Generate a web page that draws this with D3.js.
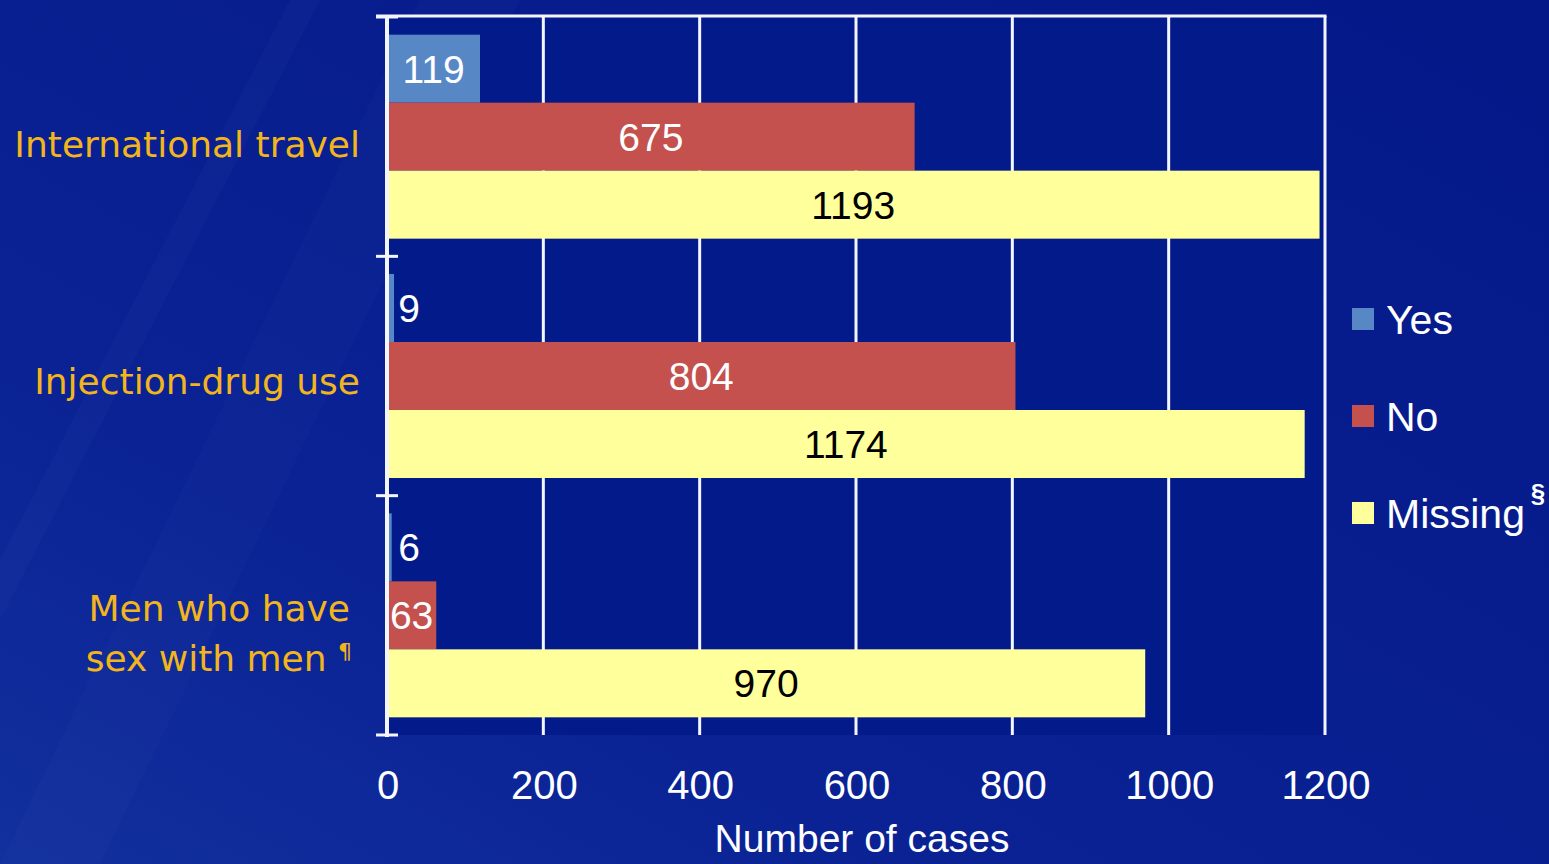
<!DOCTYPE html>
<html>
<head>
<meta charset="utf-8">
<script src="https://cdn.jsdelivr.net/npm/d3@7"></script>
<style>
  html, body { margin: 0; padding: 0; overflow: hidden; background: #061a8c; }
  svg { display: block; }
</style>
</head>
<body>
<figure id="bars" style="margin:0"></figure>
<script>
// chart data
const categories = ["International travel", "Injection-drug use", "Men who have sex with men"];
const series = ["Yes", "No", "Missing"];
const yesValues = [119, 9, 6];
const noValues = [675, 804, 63];
const missingValues = [1193, 1174, 970];
const xTicks = [0, 200, 400, 600, 800, 1000, 1200];

const width = 1549;
const height = 864;
const colors = { Yes: "#5887c6", No: "#c4514e", Missing: "#ffff9c" };
const labelColors = { Yes: "#ffffff", No: "#ffffff", Missing: "#000000" };

const rows = categories.map((c, i) => ({
  category: c,
  values: [
    { key: "Yes", value: yesValues[i] },
    { key: "No", value: noValues[i] },
    { key: "Missing", value: missingValues[i] }
  ]
}));

const svg = d3.select("figure#bars")
  .append("svg")
  .attr("width", width)
  .attr("height", height);

// background, slightly lighter toward the lower left
const defs = svg.append("defs");
const bg = defs.append("linearGradient")
  .attr("id", "bg").attr("x1", "0").attr("y1", "1").attr("x2", "1").attr("y2", "0");
bg.append("stop").attr("offset", "0").attr("stop-color", "#12309e");
bg.append("stop").attr("offset", "0.3").attr("stop-color", "#0a2294");
bg.append("stop").attr("offset", "1").attr("stop-color", "#041888");
svg.append("rect").attr("width", width).attr("height", height).attr("fill", "url(#bg)");
svg.append("path")
  .attr("d", "M0,560 L290,0 L320,0 L0,620 Z")
  .attr("fill", "#ffffff").attr("opacity", 0.02);
svg.append("path")
  .attr("d", "M0,864 L420,0 L520,0 L100,864 Z")
  .attr("fill", "#ffffff").attr("opacity", 0.015);

// scales
const x = d3.scaleLinear().domain([0, 1200]).range([387, 1325]);
const y = d3.scaleBand().domain(categories).range([17, 735]).paddingInner(0).paddingOuter(0);
const ySub = d3.scaleBand().domain(series).range([0, y.bandwidth()]).paddingInner(0).paddingOuter(0.26);

// plot area fill
svg.append("rect")
  .attr("x", x(0)).attr("y", y.range()[0])
  .attr("width", x(1200) - x(0)).attr("height", y.range()[1] - y.range()[0])
  .attr("fill", "#031a8a");

// vertical gridlines
svg.selectAll("line.grid")
  .data(xTicks.slice(1))
  .enter()
  .append("line")
  .attr("class", "grid")
  .attr("x1", d => x(d)).attr("x2", d => x(d))
  .attr("y1", 16).attr("y2", 735)
  .attr("stroke", "#f4f6ff")
  .attr("stroke-width", 3);

// top border
svg.append("line")
  .attr("x1", 376).attr("x2", x(1200) + 1.5)
  .attr("y1", 16).attr("y2", 16)
  .attr("stroke", "#f4f6ff").attr("stroke-width", 3);

// bars
const groups = svg.selectAll("g.row")
  .data(rows)
  .enter()
  .append("g")
  .attr("class", "row")
  .attr("transform", d => `translate(0,${y(d.category)})`);

groups.selectAll("rect")
  .data(d => d.values)
  .enter()
  .append("rect")
  .attr("x", x(0))
  .attr("y", d => ySub(d.key))
  .attr("width", d => x(d.value) - x(0))
  .attr("height", ySub.bandwidth())
  .attr("fill", d => colors[d.key]);

groups.selectAll("text.value")
  .data(d => d.values)
  .enter()
  .append("text")
  .attr("class", "value")
  .attr("x", d => Math.max((x(0) + x(d.value)) / 2, x(0) + 22))
  .attr("y", d => ySub(d.key) + ySub.bandwidth() / 2 + 14)
  .attr("text-anchor", "middle")
  .attr("font-family", "'Liberation Sans', Arial, sans-serif")
  .attr("font-size", 39)
  .attr("fill", d => labelColors[d.key])
  .text(d => d.value);

// left axis line with caps at band edges
const edges = [y.range()[0]].concat(categories.map(c => y(c) + y.bandwidth()));
svg.append("line")
  .attr("x1", x(0)).attr("x2", x(0))
  .attr("y1", 15).attr("y2", 737)
  .attr("stroke", "#f4f6ff").attr("stroke-width", 4);
svg.selectAll("line.cap")
  .data(edges)
  .enter()
  .append("line")
  .attr("class", "cap")
  .attr("x1", 376).attr("x2", 398)
  .attr("y1", d => d).attr("y2", d => d)
  .attr("stroke", "#f4f6ff").attr("stroke-width", 3);

// x tick labels
svg.selectAll("text.tick")
  .data(xTicks)
  .enter()
  .append("text")
  .attr("class", "tick")
  .attr("x", d => x(d) + 1)
  .attr("y", 799)
  .attr("text-anchor", "middle")
  .attr("font-family", "'Liberation Sans', Arial, sans-serif")
  .attr("font-size", 40)
  .attr("fill", "#ffffff")
  .text(d => d);

svg.append("text")
  .attr("x", 862)
  .attr("y", 852)
  .attr("text-anchor", "middle")
  .attr("font-family", "'Liberation Sans', Arial, sans-serif")
  .attr("font-size", 39)
  .attr("fill", "#ffffff")
  .text("Number of cases");

// category labels
const catFont = "'DejaVu Sans', Verdana, sans-serif";
const catColor = "#f2b51c";
svg.append("text")
  .attr("x", 360).attr("y", y(categories[0]) + y.bandwidth() / 2 + 20)
  .attr("text-anchor", "end")
  .attr("font-family", catFont).attr("font-size", 36).attr("fill", catColor)
  .text(categories[0]);
svg.append("text")
  .attr("x", 360).attr("y", y(categories[1]) + y.bandwidth() / 2 + 18)
  .attr("text-anchor", "end")
  .attr("font-family", catFont).attr("font-size", 36).attr("fill", catColor)
  .text(categories[1]);
const msm = svg.append("text")
  .attr("text-anchor", "end")
  .attr("font-family", catFont).attr("font-size", 36).attr("fill", catColor);
msm.append("tspan")
  .attr("x", 350).attr("y", y(categories[2]) + y.bandwidth() / 2 + 6)
  .text("Men who have");
const line2 = msm.append("tspan")
  .attr("x", 352).attr("y", y(categories[2]) + y.bandwidth() / 2 + 56);
line2.append("tspan").text("sex with men ");
line2.append("tspan").attr("font-size", 22).attr("dy", -12).text("\u00b6");

// legend
const legendY = d3.scalePoint().domain(series).range([319, 513]);
const legend = svg.selectAll("g.legend")
  .data(series)
  .enter()
  .append("g")
  .attr("class", "legend")
  .attr("transform", d => `translate(1352,${legendY(d)})`);
legend.append("rect")
  .attr("x", 0).attr("y", -11)
  .attr("width", 22).attr("height", 22)
  .attr("fill", d => colors[d]);
legend.append("text")
  .attr("x", 34).attr("y", 15)
  .attr("font-family", "'Liberation Sans', Arial, sans-serif")
  .attr("font-size", 41)
  .attr("fill", "#ffffff")
  .text(d => d);
svg.append("text")
  .attr("x", 1538).attr("y", 502)
  .attr("text-anchor", "middle")
  .attr("font-family", "'Liberation Sans', Arial, sans-serif")
  .attr("font-size", 26)
  .attr("font-weight", "bold")
  .attr("fill", "#ffffff")
  .text("\u00a7");
</script>
</body>
</html>
